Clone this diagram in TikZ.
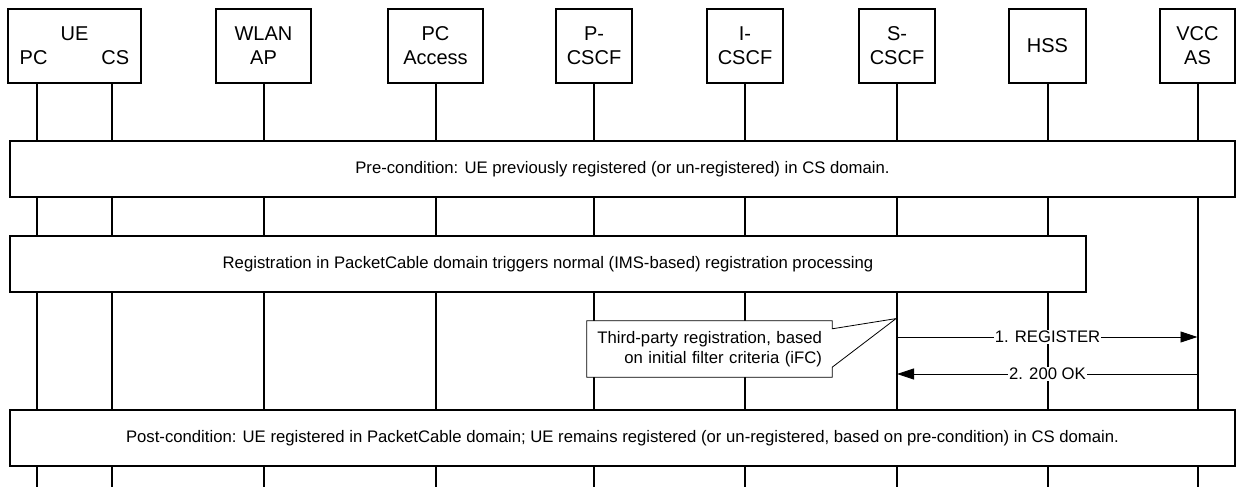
\documentclass[tikz,border=0pt]{standalone}
\usepackage{fontspec}
\setmainfont{Liberation Sans}
\usetikzlibrary{arrows.meta,calc}
\begin{document}
\begin{tikzpicture}[x=1pt,y=-1pt,
  hdr/.style={draw,line width=1.2pt,fill=white,minimum height=74pt,inner sep=0pt,align=center,font=\fontsize{20}{24}\selectfont},
  life/.style={line width=2pt},
  band/.style={draw,line width=1.2pt,fill=white,minimum height=56pt,inner sep=0pt,font=\fontsize{16.7}{20}\selectfont},
  msg/.style={line width=0.9pt,-{Triangle[length=17pt,width=11pt]}},
  lbl/.style={fill=white,inner sep=1pt,font=\fontsize{16.7}{20}\selectfont},
  note/.style={inner sep=0pt,minimum width=245pt,minimum height=56pt,text width=225pt,align=right,font=\fontsize{16.7}{20}\selectfont}]
\useasboundingbox (0,0) rectangle (1236,487);
% header boxes
\node[hdr,minimum width=133pt] (ue) at (74.5,46) {UE\\PC\hspace{54pt}CS};
\node[hdr,minimum width=95pt] (wlan) at (263.5,46) {WLAN\\AP};
\node[hdr,minimum width=95pt] (pca) at (435.5,46) {PC\\Access};
\node[hdr,minimum width=76pt] (pcscf) at (594,46) {P-\\CSCF};
\node[hdr,minimum width=76pt] (icscf) at (745,46) {I-\\CSCF};
\node[hdr,minimum width=76pt] (scscf) at (897,46) {S-\\CSCF};
\node[hdr,minimum width=77pt] (hss) at (1047.5,46) {HSS};
\node[hdr,minimum width=75pt] (vcc) at (1197.5,46) {VCC\\AS};
% helper coordinates
\coordinate (bot) at (0,487);
\coordinate (pctop) at ($(ue.south west)+(30,0)$);
\coordinate (cstop) at ($(ue.south west)+(105,0)$);
\coordinate (y337) at (0,337);
\coordinate (y374) at (0,374);
% lifelines
\draw[life] (pctop) -- (pctop |- bot);
\draw[life] (cstop) -- (cstop |- bot);
\draw[life] (wlan.south) -- (wlan.south |- bot);
\draw[life] (pca.south) -- (pca.south |- bot);
\draw[life] (pcscf.south) -- (pcscf.south |- bot);
\draw[life] (icscf.south) -- (icscf.south |- bot);
\draw[life] (scscf.south) -- (scscf.south |- bot);
\draw[life] (hss.south) -- (hss.south |- bot);
\draw[life] (vcc.south) -- (vcc.south |- bot);
% bands
\node[band,minimum width=1225pt] (pre) at (622.5,169) {Pre-condition: UE previously registered (or un-registered) in CS domain.};
\node[band,minimum width=1076pt] (reg) at (548,264) {Registration in PacketCable domain triggers normal (IMS-based) registration processing};
\node[band,minimum width=1225pt] (post) at (622.5,438) {Post-condition: UE registered in PacketCable domain; UE remains registered (or un-registered, based on pre-condition) in CS domain.};
% callout
\coordinate (tip) at ($(scscf.south)+(-1,235)$);
\node[note] (cnote) at (709.5,349) {};
\draw[line width=0.8pt,fill=white] (cnote.north west) -- (cnote.north east) -- ($(cnote.north east)+(0,8)$) -- (tip) -- ($(cnote.south east)+(0,-10)$) -- (cnote.south east) -- (cnote.south west) -- cycle;
\node[note] (ctext) at (cnote) {Third-party registration, based\\on initial filter criteria (iFC)};
% messages
\draw[msg] (scscf.south |- y337) -- (vcc.south |- y337);
\node[lbl] (m1) at (hss.south |- y337) {1. REGISTER};
\draw[msg] (vcc.south |- y374) -- (scscf.south |- y374);
\node[lbl] (m2) at (hss.south |- y374) {2. 200 OK};
\end{tikzpicture}
\end{document}
